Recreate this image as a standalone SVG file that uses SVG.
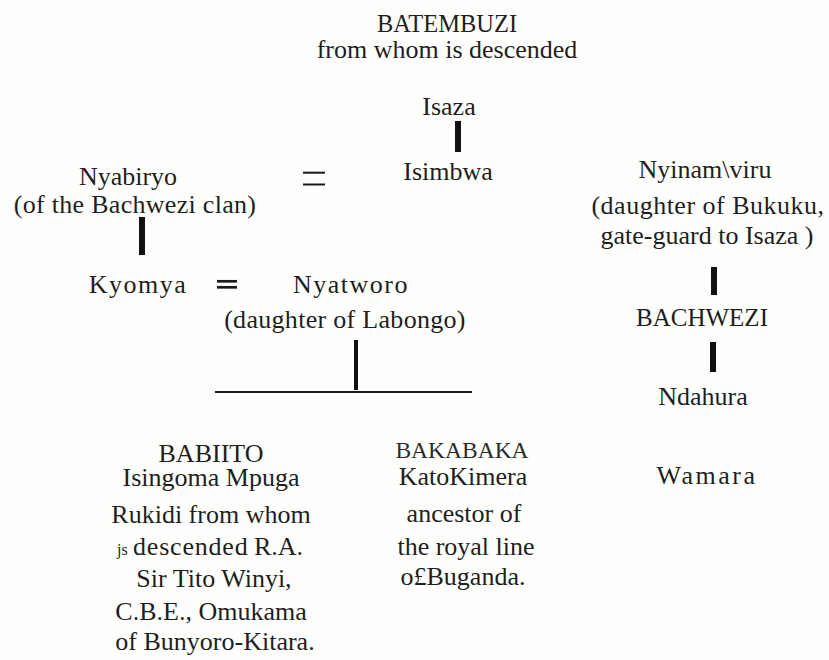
<svg xmlns="http://www.w3.org/2000/svg" width="829" height="660" viewBox="0 0 829 660">
<style>
.s{text-anchor:start}
.bar{fill:#111}
.eq{stroke:#1a1a1a;fill:none}
</style>
<rect width="829" height="660" fill="#fefefd"/>
<g id="connectors">
<rect class="bar" x="455" y="121" width="6" height="31"/>
<rect class="bar" x="139" y="217" width="6" height="38"/>
<rect class="bar" x="711" y="267" width="6" height="28"/>
<rect class="bar" x="710" y="342" width="6" height="30"/>
<rect class="bar" x="354" y="340" width="4" height="50"/>
<line class="eq" x1="215" y1="392" x2="472" y2="392" stroke-width="2"/>
<line class="eq" x1="303" y1="172.7" x2="325" y2="172.7" stroke-width="2"/>
<line class="eq" x1="303" y1="184.5" x2="325" y2="184.5" stroke-width="2"/>
<line class="eq" x1="217" y1="281.3" x2="237" y2="281.3" stroke-width="2.7"/>
<line class="eq" x1="217" y1="287.3" x2="237" y2="287.3" stroke-width="2.7"/>
</g>
<g font-size="26" fill="#1e1e1e" text-anchor="middle">
<g id="batembuzi">
<text font-family="Liberation Serif" x="447" y="32" font-size="24.5">BATEMBUZI</text>
<text font-family="Liberation Serif" x="447" y="58">from whom is descended</text>
</g>
<g id="isaza"><text font-family="Liberation Serif" x="449" y="115">Isaza</text></g>
<g id="isimbwa"><text font-family="Liberation Serif" x="448" y="180">Isimbwa</text></g>
<g id="nyabiryo">
<text font-family="Liberation Serif" x="128" y="185">Nyabiryo</text>
<text font-family="Liberation Serif" x="135" y="213" letter-spacing="0.3">(of the Bachwezi clan)</text>
</g>
<g id="kyomya"><text font-family="Liberation Serif" x="138" y="293" letter-spacing="1.5">Kyomya</text></g>
<g id="nyatworo">
<text font-family="Liberation Serif" x="351" y="293" letter-spacing="1.5">Nyatworo</text>
<text font-family="Liberation Serif" x="345" y="328" letter-spacing="0.3">(daughter of Labongo)</text>
</g>
<g id="nyinamviru">
<text font-family="Liberation Serif" x="705" y="178">Nyinam\viru</text>
<text font-family="Liberation Serif" x="708" y="214" letter-spacing="0.5">(daughter of  Bukuku,</text>
<text font-family="Liberation Serif" x="707" y="244">gate-guard to Isaza )</text>
</g>
<g id="bachwezi"><text font-family="Liberation Serif" x="702" y="326" font-size="25">BACHWEZI</text></g>
<g id="ndahura"><text font-family="Liberation Serif" x="703" y="405">Ndahura</text></g>
<g id="wamara"><text font-family="Liberation Serif" x="707" y="484" letter-spacing="2.5">Wamara</text></g>
<g id="babiito">
<text font-family="Liberation Serif" x="211" y="462">BABIITO</text>
<text font-family="Liberation Serif" x="211" y="486">Isingoma Mpuga</text>
<text font-family="Liberation Serif" x="211" y="523">Rukidi from whom</text>
<text font-family="Liberation Serif" class="s" x="117" y="555" font-size="16">js</text>
<text font-family="Liberation Serif" class="s" x="133" y="555" letter-spacing="0.8">descended</text>
<text font-family="Liberation Serif" class="s" x="254" y="555">R.A.</text>
<text font-family="Liberation Serif" x="214" y="587">Sir Tito Winyi,</text>
<text font-family="Liberation Serif" x="211" y="620">C.B.E., Omukama</text>
<text font-family="Liberation Serif" x="215" y="650">of  Bunyoro-Kitara.</text>
</g>
<g id="bakabaka">
<text font-family="Liberation Serif" x="462" y="458" font-size="23.5" fill="#2a2a2a">BAKABAKA</text>
<text font-family="Liberation Serif" x="463" y="485">KatoKimera</text>
<text font-family="Liberation Serif" x="464" y="522">ancestor of</text>
<text font-family="Liberation Serif" x="466" y="555">the royal line</text>
<text font-family="Liberation Serif" x="463" y="585">o£Buganda.</text>
</g>
</g>
</svg>
